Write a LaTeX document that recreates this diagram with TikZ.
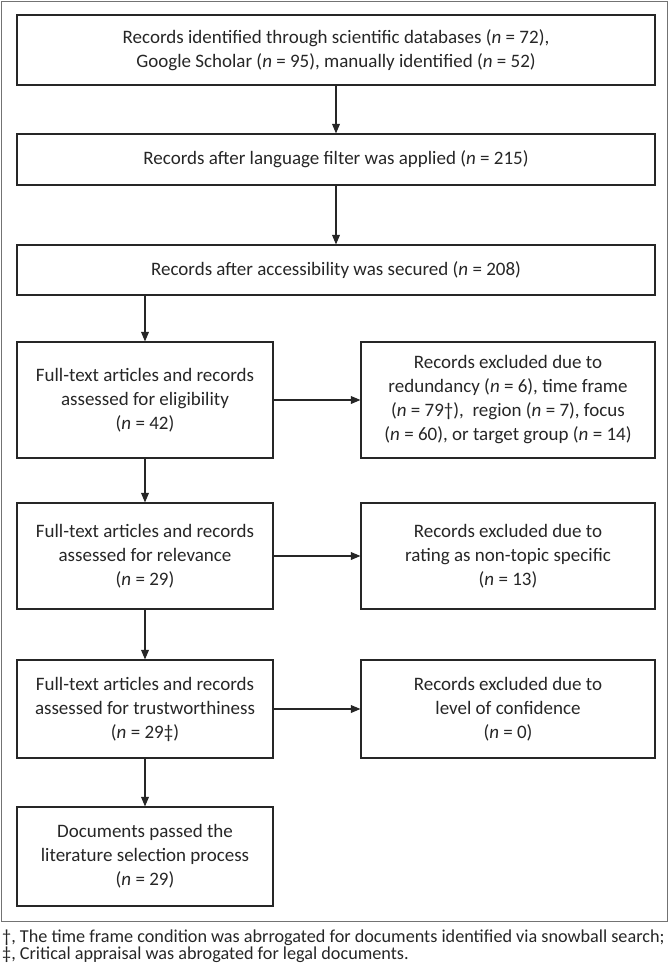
\documentclass[tikz,border=0pt]{standalone}
\usepackage{fontspec}
\setmainfont{Carlito}
\usepackage{tikz}
\usetikzlibrary{arrows}
\tikzstyle{box} = [draw=black!85,line width=1.2pt,align=center,inner sep=0pt,text=black!85,font=\fontsize{19}{24}\selectfont]
\tikzstyle{arrow} = [line width=1.2pt,->,>=triangle 45,black!85]
\tikzstyle{note} = [anchor=base west,inner sep=0pt,text=black!85,font=\fontsize{18.2}{17}\selectfont]
\newcommand{\nval}[1]{(\textit{n} = #1)}

\begin{document}
\begin{tikzpicture}[x=1pt,y=-1pt]
                \useasboundingbox (0,0) rectangle (670,969);
                \draw [black!55,line width=0.8pt] (1,1) rectangle (667,921);
                % top column
                \node[box,minimum width=638pt,minimum height=70pt] (ident) at (336,50) {Records identified through scientific databases \nval{72},\\Google Scholar \nval{95}, manually identified \nval{52}};
                \node[box,minimum width=638pt,minimum height=51pt] (lang) at (336,159.5) {Records after language filter was applied \nval{215}};
                \node[box,minimum width=638pt,minimum height=50pt] (access) at (336,270) {Records after accessibility was secured \nval{208}};
                % left column
                \node[box,minimum width=256pt,minimum height=116pt] (elig) at (145,400) {Full-text articles and records\\assessed for eligibility\\\nval{42}};
                \node[box,minimum width=256pt,minimum height=106pt] (relev) at (145,556) {Full-text articles and records\\assessed for relevance\\\nval{29}};
                \node[box,minimum width=256pt,minimum height=98pt] (trust) at (145,709) {Full-text articles and records\\assessed for trustworthiness\\\nval{29‡}};
                \node[box,minimum width=256pt,minimum height=99pt] (passed) at (145,856.5) {Documents passed the\\literature selection process\\\nval{29}};
                % right column
                \node[box,minimum width=294pt,minimum height=116pt] (exclA) at (508,400) {Records excluded due to\\redundancy \nval{6}, time frame\\\nval{79†},\ \ region \nval{7}, focus\\\nval{60}, or target group \nval{14}};
                \node[box,minimum width=294pt,minimum height=106pt] (exclB) at (508,556) {Records excluded due to\\rating as non-topic specific\\\nval{13}};
                \node[box,minimum width=294pt,minimum height=98pt] (exclC) at (508,709) {Records excluded due to\\level of confidence\\\nval{0}};
                % connectors
                \draw [arrow] (ident) -- (lang);
                \draw [arrow] (lang) -- (access);
                \draw [arrow] (access.south -| elig.north) -- (elig);
                \draw [arrow] (elig) -- (relev);
                \draw [arrow] (relev) -- (trust);
                \draw [arrow] (trust) -- (passed);
                \draw [arrow] (elig) -- (exclA);
                \draw [arrow] (relev) -- (exclB);
                \draw [arrow] (trust) -- (exclC);
                % notes
                \node[note] (noteA) at (2,942) {†, The time frame condition was abrrogated for documents identified via snowball search;};
                \node[note] (noteB) at (2,959) {‡, Critical appraisal was abrogated for legal documents.};
            \end{tikzpicture}
\end{document}
